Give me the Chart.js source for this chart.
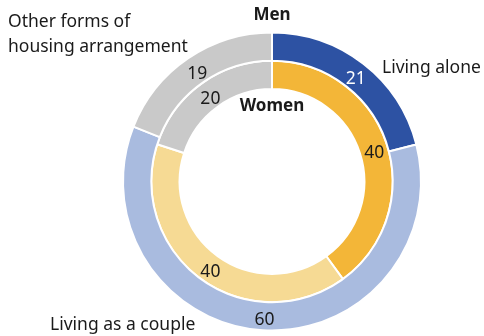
<!DOCTYPE html>
<html>
<head>
<meta charset="utf-8">
<script src="https://cdn.jsdelivr.net/npm/chart.js@4"></script>
<style>
  html, body { margin: 0; padding: 0; background: #fff; }
  #wrap { position: relative; width: 484px; height: 336px; }
</style>
</head>
<body>
<div id="wrap"><canvas id="chart" width="484" height="336"></canvas></div>
<script>
let categories = ['Living alone', 'Living as a couple', 'Other forms of housing arrangement'];
let series_names = ['Men', 'Women'];
let men_values = [21, 60, 19];
let women_values = [40, 40, 20];

let men_colors = ['#2d52a3', '#a9bbdf', '#c9c9c9'];
let women_colors = ['#f3b638', '#f6da94', '#c9c9c9'];
let text_color = '#1a1a1a';
let font_family = '"Noto Sans", "Open Sans", sans-serif';

// value labels on every segment, plus the ring names and category names
const ringLabels = {
    id: 'ringLabels',
    afterDatasetsDraw(chart) {
        let ctx = chart.ctx;
        ctx.save();
        ctx.textAlign = 'center';
        ctx.textBaseline = 'middle';
        ctx.font = '17.5px ' + font_family;
        chart.data.datasets.forEach(function (ds, di) {
            let meta = chart.getDatasetMeta(di);
            meta.data.forEach(function (arc, i) {
                let p = arc.tooltipPosition();
                ctx.fillStyle = (di === 0 && i === 0) ? '#ffffff' : text_color;
                ctx.fillText(ds.data[i], p.x + 1, p.y + 4);
            });
        });

        let outer = chart.getDatasetMeta(0).data[0];
        let inner = chart.getDatasetMeta(1).data[0];
        let cx = outer.x, cy = outer.y;

        ctx.fillStyle = text_color;
        ctx.font = 'bold 17px ' + font_family;
        ctx.fillText(series_names[0], cx, cy - outer.outerRadius - 17);
        ctx.fillText(series_names[1], cx, cy - inner.innerRadius + 17);

        ctx.font = '17.5px ' + font_family;
        ctx.textAlign = 'left';
        ctx.fillText(categories[0], 382, 68);
        ctx.fillText(categories[1], 50, 325);
        ctx.fillText('Other forms of', 8, 22);
        ctx.fillText('housing arrangement', 8, 47);
        ctx.restore();
    }
};

$chart = new Chart(document.getElementById('chart'), {
    type: 'doughnut',
    data: {
        labels: categories,
        datasets: [{
            label: series_names[0],
            data: men_values,
            backgroundColor: men_colors,
            borderColor: '#ffffff',
            borderWidth: 2
        }, {
            label: series_names[1],
            data: women_values,
            backgroundColor: women_colors,
            borderColor: '#ffffff',
            borderWidth: 2
        }]
    },
    options: {
        responsive: false,
        animation: false,
        cutout: '62%',
        layout: {
            padding: { left: 122, right: 62, top: 31, bottom: 4 }
        },
        plugins: {
            legend: { display: false },
            tooltip: { enabled: false }
        }
    },
    plugins: [ringLabels]
});
</script>
</body>
</html>
